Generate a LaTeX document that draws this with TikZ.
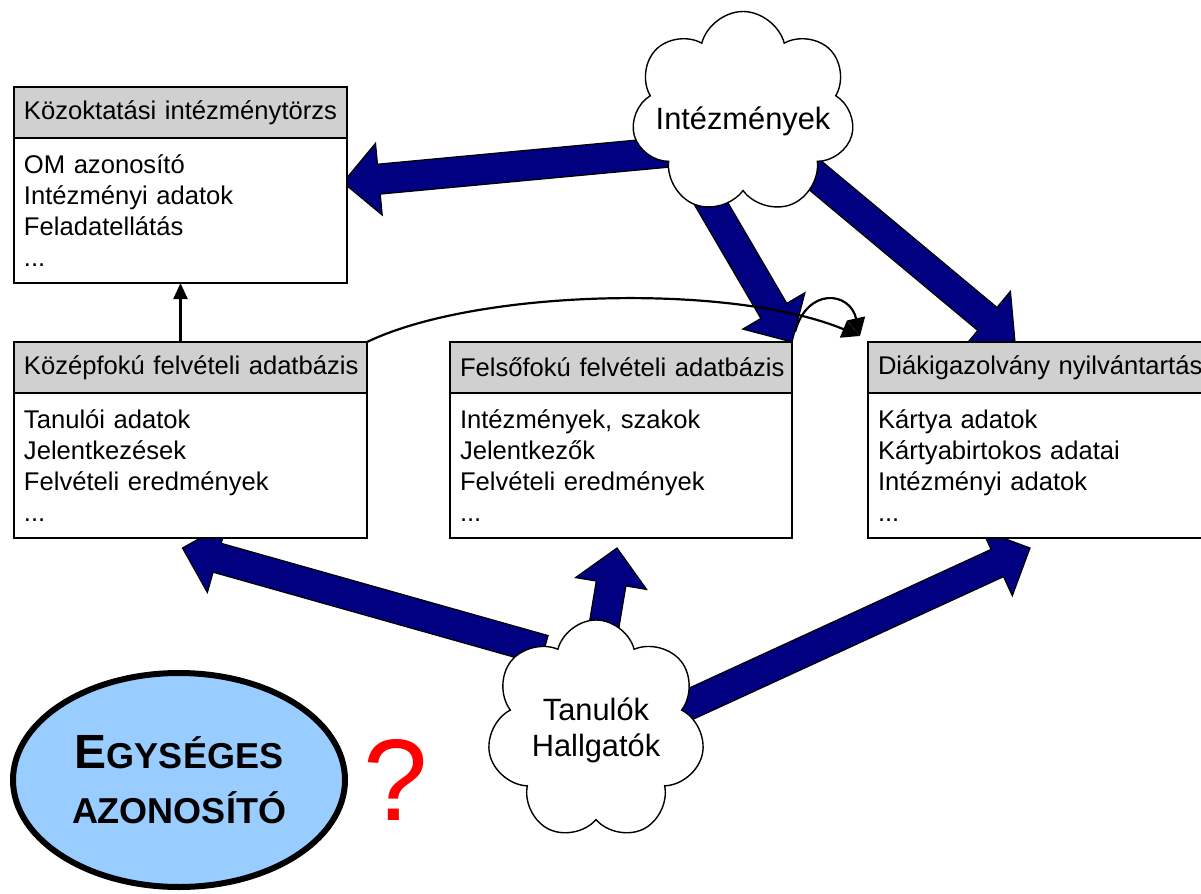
\documentclass[tikz,border=0pt]{standalone}
\usepackage{fontspec}
\setmainfont{Liberation Sans}
\definecolor{navy}{RGB}{0,0,128}
\definecolor{header-gray}{RGB}{208,208,208}
\definecolor{id-blue}{RGB}{153,204,255}
\usepackage{tikz}
\usetikzlibrary{calc}
\usetikzlibrary{positioning}
\usetikzlibrary{shapes.geometric}
\usetikzlibrary{shapes.symbols}
\usetikzlibrary{arrows.meta}
\usetikzlibrary{backgrounds}
\newcommand{\boxfont}{\fontsize{12.8}{15.5}\selectfont}
\newcommand{\fatarrow}[2]{%
  \coordinate (neck) at ($(#2)!18pt!(#1)$);
  \draw [fat arrow]
    ($(#1)!7.5pt!90:(#2)$) -- ($(neck)!7.5pt!90:(#2)$)
    -- ($(neck)!18pt!90:(#2)$) -- (#2) -- ($(neck)!18pt!-90:(#2)$)
    -- ($(neck)!7.5pt!-90:(#2)$) -- ($(#1)!7.5pt!-90:(#2)$) -- cycle;
}
\begin{document}
\begin{tikzpicture}[%
    x=0.5pt,
    y=-0.5pt,
    db head/.style={%
      draw,
      fill=header-gray,
      line width=0.7pt,
      anchor=north west,
      minimum height=25.5pt,
      inner xsep=5pt,
      inner ysep=0pt,
      outer sep=0pt,
      align=left,
      text width=#1,
      font=\boxfont,
    },
    db body/.style={%
      draw,
      fill=white,
      line width=0.7pt,
      minimum height=72.5pt,
      inner xsep=5pt,
      inner ysep=0pt,
      outer sep=0pt,
      align=left,
      text width=#1,
      font=\boxfont,
    },
    fat arrow/.style={%
      draw=black,
      fill=navy,
      line width=0.6pt,
    },
    cloud node/.style={%
      cloud,
      cloud puffs=7,
      cloud puff arc=150,
      draw,
      fill=white,
      line width=0.7pt,
      inner sep=0pt,
    },
    cloud text/.style={%
      align=center,
      font=\fontsize{15.4}{18}\selectfont,
    },
    link/.style={%
      line width=1.1pt,
      -{Triangle[length=8pt,width=7pt]},
    },
  ]
  \useasboundingbox (0,0) rectangle (1201,894);
  \clip (0,0) rectangle (1201,894);

  % databases
  \node [db head=156.5pt] (school head) at (14,87) {\mbox{Közoktatási intézménytörzs}};
  \node [db body=156.5pt, below=0pt of school head] (school body)
    {OM azonosító\\Intézményi adatok\\Feladatellátás\\...};
  \node [db head=166.5pt] (secondary head) at (14,342) {\mbox{Középfokú felvételi adatbázis}};
  \node [db body=166.5pt, below=0pt of secondary head] (secondary body)
    {Tanulói adatok\\Jelentkezések\\Felvételi eredmények\\...};
  \node [db head=161pt] (higher head) at (450,342) {\mbox{Felsőfokú felvételi adatbázis}};
  \node [db body=161pt, below=0pt of higher head] (higher body)
    {Intézmények, szakok\\Jelentkezők\\Felvételi eredmények\\...};
  \node [db head=162.5pt] (card head) at (868,342) {\mbox{Diákigazolvány nyilvántartás}};
  \node [db body=162.5pt, below=0pt of card head] (card body)
    {Kártya adatok\\Kártyabirtokos adatai\\Intézményi adatok\\...};

  % sources
  \node [%
    cloud node,
    minimum width=111.5pt,
    minimum height=101.5pt,
    label={[cloud text, yshift=-4pt]center:Intézmények},
  ] (institutions) at (743,113) {};
  \node [%
    cloud node,
    minimum width=109pt,
    minimum height=110pt,
    label={[cloud text]center:Tanulók\\Hallgatók},
  ] (students) at (596,730) {};

  \coordinate (institutions w) at ($(institutions.center)+(-73,39)$);
  \coordinate (institutions s) at ($(institutions.center)+(-58,46)$);
  \coordinate (institutions e) at ($(institutions.center)+(49,43)$);
  \coordinate (students w) at ($(students.center)+(-52,-80)$);
  \coordinate (students n) at ($(students.center)+(-1,-50)$);
  \coordinate (students e) at ($(students.center)+(77,-18)$);

  \begin{scope}[on background layer]
    \fatarrow{institutions w}{$(school body.east)+(-4,-28)$}
    \fatarrow{institutions s}{higher head.north east}
    \fatarrow{institutions e}{$(card head.north west)+(147,0)$}
    \fatarrow{students w}{$(secondary body.south)+(-8,10)$}
    \fatarrow{students n}{$(higher body.south)+(-4,10)$}
    \fatarrow{students e}{$(card body.south west)+(162,10)$}
  \end{scope}

  % links between the databases
  \draw [link] (secondary head.north -| school body.south) -- (school body.south);
  \coordinate (card hook) at ($(card head.north west)+(-8,-6)$);
  \coordinate (hop) at ($(higher head.north east)+(3,-10)$);
  \draw [link, -{Triangle[length=9pt,width=9pt]}] (secondary head.north east)
    .. controls +(110,-53) and +(-128,-53) .. (card hook);
  \draw [link, -{Triangle[length=9pt,width=9pt]}] (hop)
    .. controls +(12,-45) and +(-10,-45) .. (card hook);

  % the question
  \node [%
    ellipse,
    draw,
    line width=3pt,
    fill=id-blue,
    minimum width=166pt,
    minimum height=107pt,
    align=center,
    font=\bfseries\fontsize{18}{27.5}\selectfont,
  ] (unique id) at (179,780) {{\fontsize{24}{27.5}\selectfont E}GYSÉGES\\AZONOSÍTÓ};
  \node [%
    text=red,
    font=\fontsize{58}{60}\selectfont,
    right=4pt of unique id,
  ] (question) {?};
\end{tikzpicture}
\end{document}
